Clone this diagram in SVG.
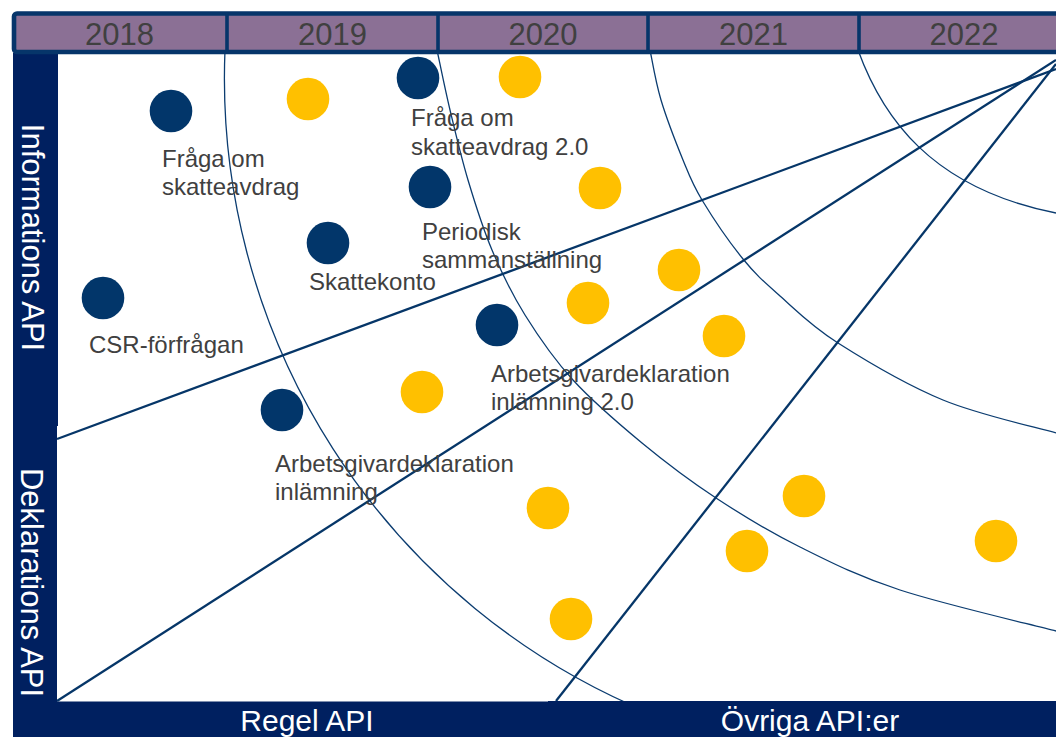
<svg xmlns="http://www.w3.org/2000/svg" width="1056" height="737" viewBox="0 0 1056 737">
<style>
.arc{fill:none;stroke:#0B3C70;stroke-width:1.3}
.ray{fill:none;stroke:#063668;stroke-width:2.3}
.navy{fill:#02366A}
.gold{fill:#FFC000}
.lbl{font-family:"Liberation Sans",Arial,sans-serif;font-size:24px;fill:#404040}
.yr{font-family:"Liberation Sans",Arial,sans-serif;font-size:31px;fill:#404040;text-anchor:middle}
.bar{fill:#002060}
.bt{font-family:"Liberation Sans",Arial,sans-serif;font-size:31px;fill:#FFFFFF;text-anchor:middle}
.bb{font-family:"Liberation Sans",Arial,sans-serif;font-size:30px;fill:#FFFFFF;text-anchor:middle}
.div{stroke:#06356A;stroke-width:3.6}
</style>
<rect width="1056" height="737" fill="#FFFFFF"/>
<g id="connectors">
<path class="arc" d="M225,50 A686,686 0 0 0 650,713"/>
<path class="arc" d="M437,50 C439.2,60 444.8,88.3 450,110 C455.2,131.7 461,156.7 468,180 C475,203.3 482.5,227.5 492,250 C501.5,272.5 511.5,293.3 525,315 C538.5,336.7 553.5,358.7 573,380 C592.5,401.3 618.2,423.3 642,443 C665.8,462.7 689.7,480.7 716,498 C742.3,515.3 769.3,531.7 800,547 C830.7,562.3 857.3,576 900,590 C942.7,604 1030,624.2 1056,631"/>
<path class="arc" d="M650,50 C651.8,58.3 655.5,81.7 661,100 C666.5,118.3 676.2,143.3 683,160 C689.8,176.7 692,183.5 702,200 C712,216.5 730,243 743,259 C756,275 764.2,282 780,296 C795.8,310 810.8,325.7 838,343 C865.2,360.3 906.7,385 943,400 C979.3,415 1037.2,427.5 1056,433"/>
<path class="arc" d="M858,50 C882,116 930,188 1056,213"/>
<line class="ray" x1="57" y1="439" x2="1056" y2="69"/>
<line class="ray" x1="57" y1="701" x2="1056" y2="60"/>
<line class="ray" x1="556" y1="701" x2="1056" y2="64"/>
</g>
<g id="n-fraga">
<circle class="navy" cx="171" cy="111" r="21.3"/>
<text class="lbl" x="162" y="166.5">Fråga om</text>
<text class="lbl" x="162" y="194.5">skatteavdrag</text>
</g>
<g id="n-csr">
<circle class="navy" cx="103" cy="298" r="21.3"/>
<text class="lbl" x="89" y="353">CSR-förfrågan</text>
</g>
<g id="n-fraga2">
<circle class="navy" cx="418" cy="78" r="21.3"/>
<text class="lbl" x="411" y="126">Fråga om</text>
<text class="lbl" x="411" y="154.5">skatteavdrag 2.0</text>
</g>
<g id="n-periodisk">
<circle class="navy" cx="430" cy="187" r="21.3"/>
<text class="lbl" x="422" y="239.5">Periodisk</text>
<text class="lbl" x="422" y="267.5">sammanställning</text>
</g>
<g id="n-skattekonto">
<circle class="navy" cx="328" cy="243" r="21.3"/>
<text class="lbl" x="309" y="290">Skattekonto</text>
</g>
<g id="n-agd2">
<circle class="navy" cx="497" cy="325" r="21.3"/>
<text class="lbl" x="491" y="382">Arbetsgivardeklaration</text>
<text class="lbl" x="491" y="410">inlämning 2.0</text>
</g>
<g id="n-agd">
<circle class="navy" cx="282" cy="410" r="21.3"/>
<text class="lbl" x="275" y="471.5">Arbetsgivardeklaration</text>
<text class="lbl" x="275" y="500">inlämning</text>
</g>
<g id="n-gold-1"><circle class="gold" cx="308" cy="99" r="21.3"/></g>
<g id="n-gold-2"><circle class="gold" cx="520" cy="77" r="21.3"/></g>
<g id="n-gold-3"><circle class="gold" cx="600" cy="188" r="21.3"/></g>
<g id="n-gold-4"><circle class="gold" cx="679" cy="270" r="21.3"/></g>
<g id="n-gold-5"><circle class="gold" cx="588" cy="303" r="21.3"/></g>
<g id="n-gold-6"><circle class="gold" cx="724" cy="336" r="21.3"/></g>
<g id="n-gold-7"><circle class="gold" cx="422" cy="392" r="21.3"/></g>
<g id="n-gold-8"><circle class="gold" cx="548" cy="508" r="21.3"/></g>
<g id="n-gold-9"><circle class="gold" cx="571" cy="619" r="21.3"/></g>
<g id="n-gold-10"><circle class="gold" cx="747" cy="551" r="21.3"/></g>
<g id="n-gold-11"><circle class="gold" cx="804" cy="496" r="21.3"/></g>
<g id="n-gold-12"><circle class="gold" cx="996" cy="541" r="21.3"/></g>
<g id="bar-info">
<rect class="bar" x="13" y="53" width="45" height="373"/>
<text class="bt" transform="translate(22,237.5) rotate(90)">Informations API</text>
</g>
<g id="bar-dekl">
<rect class="bar" x="13" y="426" width="44" height="311"/>
<text class="bt" transform="translate(21,582.5) rotate(90)">Deklarations API</text>
</g>
<g id="bar-regel">
<rect class="bar" x="13" y="701.5" width="536" height="36"/>
<text class="bb" x="307" y="730.5">Regel API</text>
</g>
<g id="bar-ovriga">
<rect class="bar" x="548" y="701" width="508" height="36"/>
<text class="bb" x="810" y="730.5">Övriga API:er</text>
</g>
<g id="header">
<rect x="14" y="13.5" width="1060" height="38.5" rx="3" fill="#8B7095" stroke="#06356A" stroke-width="4.6"/>
<line class="div" x1="227" y1="13" x2="227" y2="52"/>
<line class="div" x1="438" y1="13" x2="438" y2="52"/>
<line class="div" x1="648" y1="13" x2="648" y2="52"/>
<line class="div" x1="859" y1="13" x2="859" y2="52"/>
<text class="yr" x="119.5" y="44.5">2018</text>
<text class="yr" x="332.5" y="44.5">2019</text>
<text class="yr" x="543" y="44.5">2020</text>
<text class="yr" x="753.5" y="44.5">2021</text>
<text class="yr" x="964" y="44.5">2022</text>
</g>
</svg>
